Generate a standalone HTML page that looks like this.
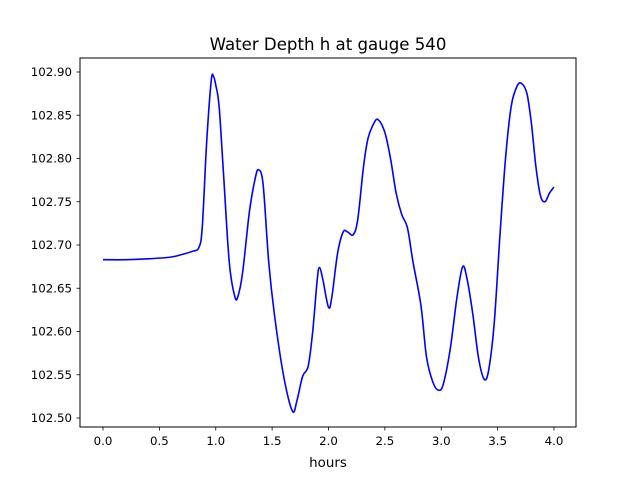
<!DOCTYPE html>
<html><head><meta charset="utf-8"><style>
body{margin:0;background:#fff;}
svg text{font-family:"DejaVu Sans","Liberation Sans",sans-serif;}
</style></head><body>
<svg id="chart" width="640" height="480" viewBox="0 0 640 480" xmlns="http://www.w3.org/2000/svg">
<rect width="640" height="480" fill="#fff"/>
<text x="328" y="50" font-size="16.6" text-anchor="middle">Water Depth h at gauge 540</text>
<g id="plot"></g>
<rect x="80" y="58" width="496" height="369" fill="none" stroke="#000" stroke-width="1"/>
<text x="328" y="467" font-size="13.4" text-anchor="middle">hours</text>
</svg>
<script>
const hours=[0,0.2,0.4,0.6,0.7,0.8,0.85,0.88,0.92,0.96,0.98,1.0,1.03,1.07,1.12,1.17,1.2,1.24,1.3,1.35,1.38,1.42,1.47,1.52,1.6,1.68,1.72,1.77,1.82,1.86,1.9,1.92,1.95,2.0,2.03,2.08,2.13,2.17,2.22,2.26,2.31,2.35,2.4,2.44,2.5,2.55,2.6,2.65,2.7,2.75,2.82,2.87,2.93,2.98,3.02,3.08,3.14,3.19,3.23,3.28,3.33,3.38,3.42,3.47,3.52,3.57,3.62,3.67,3.71,3.76,3.8,3.84,3.88,3.92,3.96,4.0];
const depth=[102.683,102.683,102.684,102.686,102.689,102.693,102.697,102.72,102.82,102.89,102.895,102.885,102.86,102.78,102.68,102.64,102.642,102.67,102.74,102.777,102.787,102.77,102.68,102.62,102.55,102.508,102.52,102.548,102.56,102.60,102.66,102.674,102.66,102.628,102.64,102.69,102.715,102.715,102.712,102.73,102.79,102.823,102.84,102.845,102.83,102.80,102.76,102.735,102.72,102.68,102.63,102.57,102.54,102.532,102.54,102.58,102.64,102.675,102.66,102.62,102.57,102.545,102.555,102.61,102.71,102.80,102.86,102.883,102.887,102.875,102.84,102.79,102.757,102.75,102.76,102.767];
const xTicks=[0,0.5,1,1.5,2,2.5,3,3.5,4];
const xTickLabels=["0.0","0.5","1.0","1.5","2.0","2.5","3.0","3.5","4.0"];
const yTicks=[102.5,102.55,102.6,102.65,102.7,102.75,102.8,102.85,102.9];
const yTickLabels=["102.50","102.55","102.60","102.65","102.70","102.75","102.80","102.85","102.90"];

const xs=v=>103+(v-0)*(554-103)/4;
const ys=v=>418-(v-102.5)*(418-72)/0.4;
const NS="http://www.w3.org/2000/svg";
const g=document.getElementById('plot');
function mk(tag,attrs){const e=document.createElementNS(NS,tag);for(const k in attrs)e.setAttribute(k,attrs[k]);g.appendChild(e);return e;}
xTicks.forEach((t,i)=>{
  const x=xs(t);
  const l=mk('line',{x1:x,x2:x,y1:427,y2:430.5,stroke:'#000','stroke-width':0.8});
  
  
  const tx=mk('text',{x:x,y:445,'font-size':11.8,'text-anchor':'middle'});
  tx.textContent=xTickLabels[i];
  
  
});
yTicks.forEach((t,i)=>{
  const y=ys(t);
  const l=mk('line',{x1:76.5,x2:80,y1:y,y2:y,stroke:'#000','stroke-width':0.8});
  
  
  const tx=mk('text',{x:72,y:y+4.2,'font-size':11.8,'text-anchor':'end'});
  tx.textContent=yTickLabels[i];
  
  
});
const P=hours.map((h,i)=>[xs(h),ys(depth[i])]);
let d='M'+P[0][0]+','+P[0][1];
for(let i=0;i<P.length-1;i++){
  const p0=P[Math.max(0,i-1)],p1=P[i],p2=P[i+1],p3=P[Math.min(P.length-1,i+2)];
  const c1=[p1[0]+(p2[0]-p0[0])/6,p1[1]+(p2[1]-p0[1])/6];
  const c2=[p2[0]-(p3[0]-p1[0])/6,p2[1]-(p3[1]-p1[1])/6];
  d+=' C'+c1[0]+','+c1[1]+' '+c2[0]+','+c2[1]+' '+p2[0]+','+p2[1];
}
const line=mk('path',{d:d,fill:'none',stroke:'#0000ff','stroke-width':1.6});


</script>
</body></html>
